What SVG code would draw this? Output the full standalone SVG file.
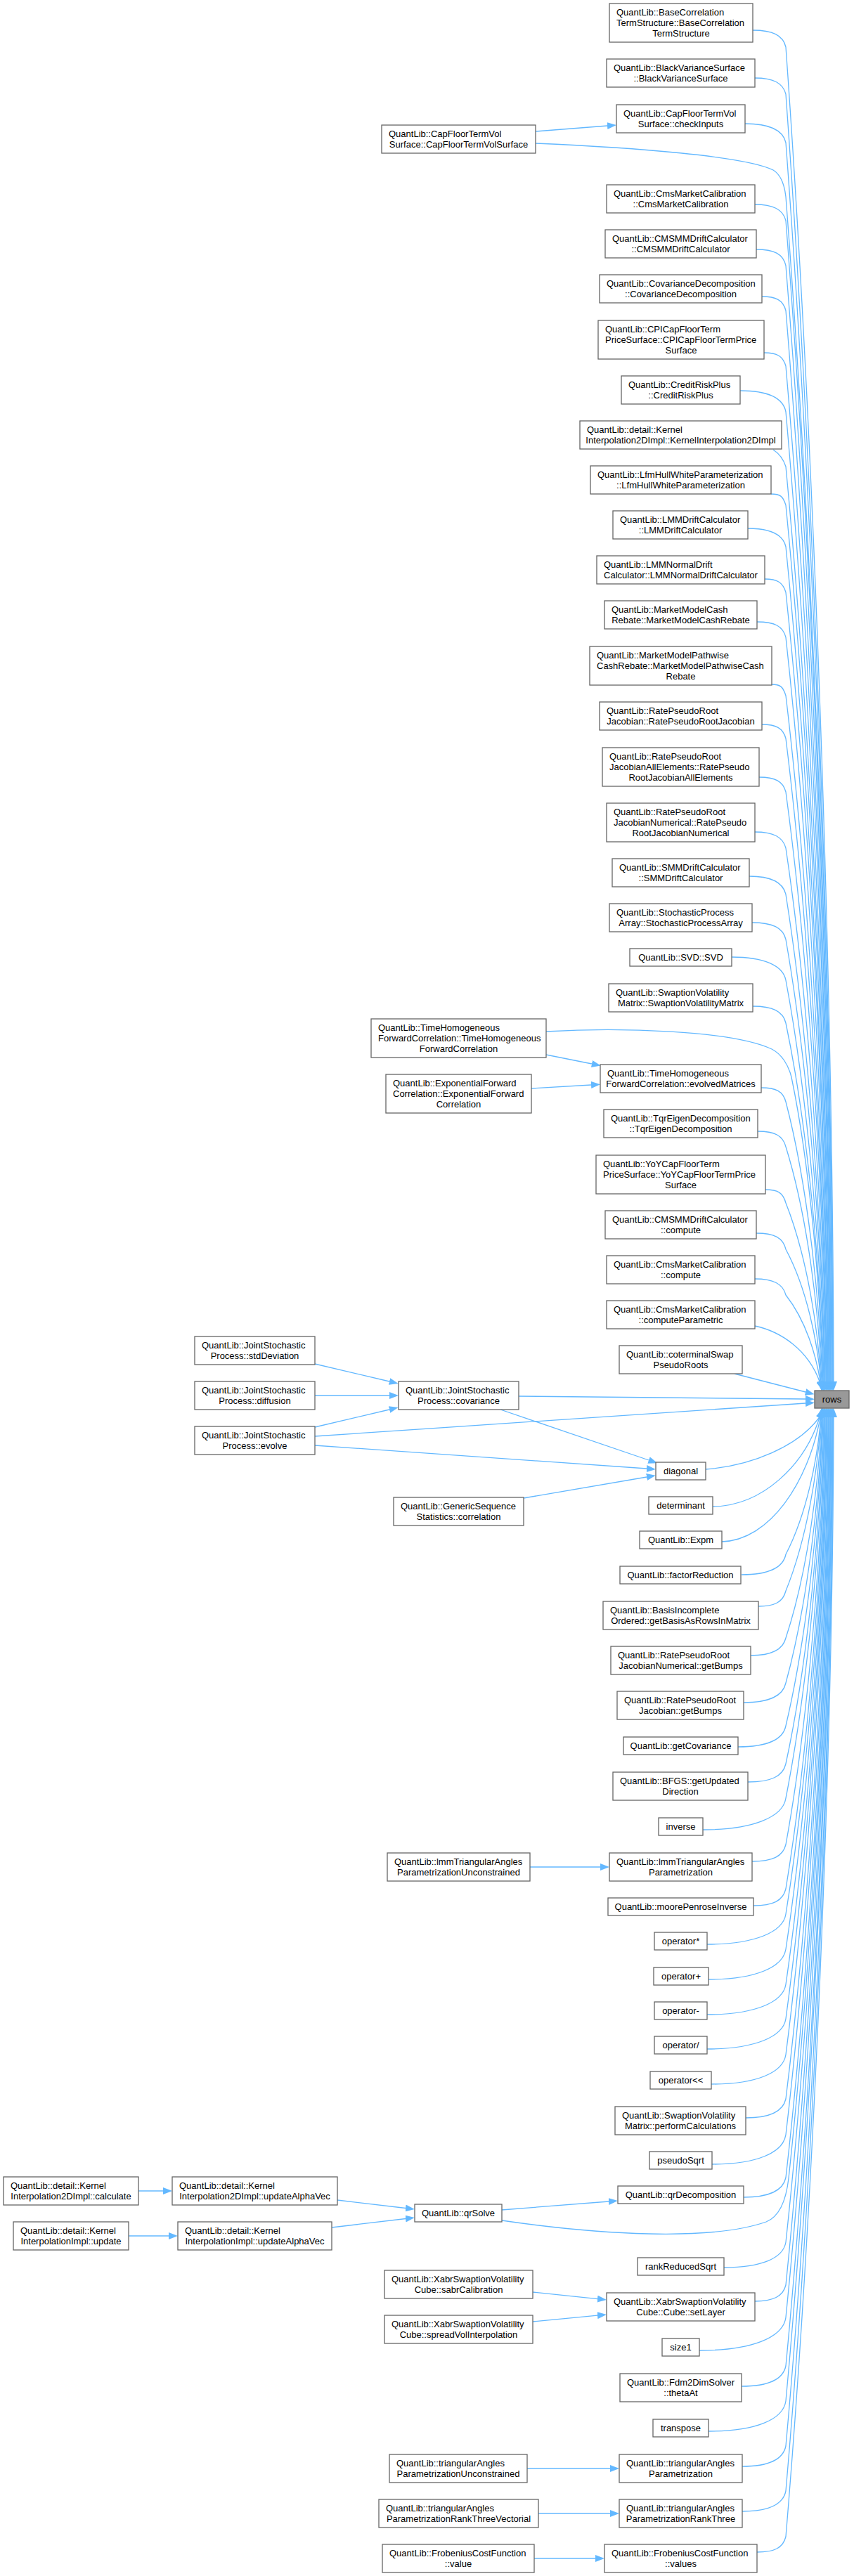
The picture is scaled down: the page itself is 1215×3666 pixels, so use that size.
<svg xmlns="http://www.w3.org/2000/svg" width="1215" height="3666" viewBox="0 0 1215 3666">
<defs>
<marker id="a" viewBox="0 0 13 10" refX="0" refY="5" markerWidth="13" markerHeight="10" markerUnits="userSpaceOnUse" orient="auto"><path d="M0,0L13,5L0,10z" fill="#63b8ff"/></marker>
<style>
.n rect{fill:#fff;stroke:#666;stroke-width:1.3}
.n text{font-family:"Liberation Sans",Arial,Helvetica,sans-serif;font-size:13px;fill:#000}
.n text.c{text-anchor:middle}
#rows rect{fill:#999}
.e path{fill:none;stroke:#63b8ff;stroke-width:1.3;marker-end:url(#a)}
</style>
</defs>
<rect x="0" y="0" width="1215" height="3666" fill="#fff"/>
<g class="e" id="connectors">
<path d="M762,187L864,179"/>
<path d="M777,1501L842,1514"/>
<path d="M756,1549L841,1544"/>
<path d="M448,1941L554,1966"/>
<path d="M448,1986L554,1986"/>
<path d="M448,2031L554,2006"/>
<path d="M448,2044L1146,1997"/>
<path d="M448,2057L920,2090"/>
<path d="M738,1987L1146,1991"/>
<path d="M712,2006L923,2078"/>
<path d="M745,2132L920,2102"/>
<path d="M1045,1955L1146,1981"/>
<path d="M754,2657L854,2657"/>
<path d="M197,3118L232,3118"/>
<path d="M183,3182L240,3182"/>
<path d="M480,3131L577,3142.5"/>
<path d="M472,3170L577,3157.5"/>
<path d="M714,3145L866,3133"/>
<path d="M758,3262L850,3271.6"/>
<path d="M758,3304L850,3295.2"/>
<path d="M750,3513L868,3513"/>
<path d="M766,3577L868,3577"/>
<path d="M760,3641L847,3641"/>
<path d="M1071,43C1099,43 1114,50 1118,67C1159,637 1185,1396 1186,1966"/>
<path d="M1074,111C1100,111 1114,118 1118,134C1158,684 1184,1416 1185,1966"/>
<path d="M1060,176C1095,176 1114,185 1118,203C1158,732 1183,1437 1185,1966"/>
<path d="M762,204C900,210 1060,222 1100,242C1110,248 1116,262 1118,280C1157,786 1183,1460 1184,1966"/>
<path d="M1074,291C1100,291 1114,298 1118,314C1157,810 1182,1470 1183,1966"/>
<path d="M1076,355C1101,355 1114,361 1118,378C1157,854 1181,1490 1182,1966"/>
<path d="M1084,422C1104,422 1114,427 1118,442C1156,899 1180,1509 1182,1966"/>
<path d="M1087,502C1106,502 1114,507 1118,521C1156,955 1180,1532 1181,1966"/>
<path d="M1053,556C1092,556 1114,566 1118,586C1155,1000 1179,1552 1180,1966"/>
<path d="M1100,640C1108,645 1114,652 1118,664C1155,1053 1178,1575 1180,1966"/>
<path d="M1097,703C1110,703 1114,706 1118,719C1155,1093 1177,1592 1179,1966"/>
<path d="M1064,752C1096,752 1114,760 1118,778C1154,1134 1176,1610 1178,1966"/>
<path d="M1088,824C1106,824 1114,829 1118,843C1154,1180 1176,1629 1178,1966"/>
<path d="M1077,885C1102,885 1114,891 1118,907C1153,1225 1175,1648 1177,1966"/>
<path d="M1098,974C1110,974 1114,977 1118,990C1153,1283 1174,1673 1176,1966"/>
<path d="M1084,1031C1104,1031 1114,1036 1118,1051C1152,1326 1173,1691 1176,1966"/>
<path d="M1080,1106C1103,1106 1114,1112 1118,1127C1152,1379 1173,1714 1175,1966"/>
<path d="M1074,1184C1100,1184 1114,1191 1118,1207C1152,1435 1172,1738 1174,1966"/>
<path d="M1066,1247C1097,1247 1114,1255 1118,1273C1151,1481 1171,1758 1173,1966"/>
<path d="M1070,1313C1099,1313 1114,1320 1118,1337C1151,1526 1170,1777 1173,1966"/>
<path d="M1041,1362C1087,1362 1114,1374 1118,1395C1150,1566 1169,1795 1172,1966"/>
<path d="M1071,1432C1099,1432 1114,1439 1118,1456C1150,1609 1168,1813 1171,1966"/>
<path d="M777,1468C880,1462 1040,1466 1098,1493C1112,1500 1122,1516 1126,1533C1153,1663 1167,1836 1171,1966"/>
<path d="M1083,1548C1104,1548 1114,1553 1118,1568C1149,1687 1166,1847 1170,1966"/>
<path d="M1078,1610C1102,1610 1114,1616 1118,1632C1149,1732 1165,1866 1169,1966"/>
<path d="M1089,1693C1106,1693 1114,1697 1118,1712C1148,1788 1164,1890 1168,1966"/>
<path d="M1076,1755C1101,1755 1114,1761 1118,1778C1148,1834 1163,1910 1168,1966"/>
<path d="M1074,1820C1100,1820 1114,1827 1118,1843C1147,1880 1161,1929 1167,1966"/>
<path d="M1074,1887C1112,1895 1150,1922 1166,1966"/>
<path d="M1004,2091C1070,2086 1135,2058 1165,2018"/>
<path d="M1014,2144C1085,2143 1145,2085 1166,2017"/>
<path d="M1027,2194C1095,2192 1150,2110 1167,2017"/>
<path d="M1055,2241C1093,2241 1114,2232 1118,2212C1148,2154 1163,2076 1168,2017"/>
<path d="M1079,2286C1102,2286 1114,2280 1118,2264C1148,2190 1164,2091 1168,2017"/>
<path d="M1068,2356C1098,2356 1114,2348 1118,2331C1149,2237 1165,2111 1169,2017"/>
<path d="M1058,2423C1094,2423 1114,2414 1118,2395C1149,2282 1166,2130 1170,2017"/>
<path d="M1050,2486C1091,2486 1114,2476 1118,2456C1149,2324 1167,2149 1170,2017"/>
<path d="M1064,2536C1097,2536 1114,2528 1118,2510C1150,2362 1168,2165 1171,2017"/>
<path d="M1000,2604C1071,2604 1114,2586 1118,2559C1150,2396 1169,2180 1172,2017"/>
<path d="M1070,2649C1099,2649 1114,2642 1118,2625C1151,2443 1170,2199 1173,2017"/>
<path d="M1072,2712C1100,2712 1114,2705 1118,2688C1151,2487 1171,2218 1173,2017"/>
<path d="M1006,2767C1073,2767 1114,2750 1118,2724C1152,2512 1172,2229 1174,2017"/>
<path d="M1008,2817C1074,2817 1114,2800 1118,2774C1152,2547 1173,2244 1175,2017"/>
<path d="M1006,2867C1073,2867 1114,2850 1118,2824C1153,2582 1173,2259 1176,2017"/>
<path d="M1006,2916C1073,2916 1114,2899 1118,2873C1153,2616 1174,2274 1176,2017"/>
<path d="M1012,2966C1076,2966 1114,2950 1118,2924C1153,2652 1175,2289 1177,2017"/>
<path d="M1061,3014C1095,3014 1114,3005 1118,2987C1154,2696 1176,2308 1178,2017"/>
<path d="M1013,3080C1076,3080 1114,3064 1118,3038C1154,2732 1177,2323 1179,2017"/>
<path d="M1058,3127C1094,3127 1114,3118 1118,3099C1155,2774 1178,2342 1179,2017"/>
<path d="M714,3160C850,3180 1010,3190 1090,3162C1108,3155 1118,3135 1122,3100C1157,2775 1179,2342 1180,2017"/>
<path d="M1030,3227C1083,3227 1114,3214 1118,3191C1156,2839 1179,2369 1181,2017"/>
<path d="M1074,3275C1100,3275 1114,3268 1118,3252C1156,2882 1180,2387 1182,2017"/>
<path d="M995,3345C1069,3345 1114,3327 1118,3298C1157,2914 1181,2401 1182,2017"/>
<path d="M1055,3396C1093,3396 1114,3387 1118,3367C1157,2962 1182,2422 1183,2017"/>
<path d="M1008,3460C1074,3460 1114,3444 1118,3417C1157,2997 1182,2437 1184,2017"/>
<path d="M1056,3510C1093,3510 1114,3501 1118,3481C1158,3042 1183,2456 1185,2017"/>
<path d="M1056,3574C1093,3574 1114,3565 1118,3545C1158,3087 1184,2475 1185,2017"/>
<path d="M1077,3632C1102,3632 1114,3626 1118,3610C1158,3132 1185,2495 1186,2017"/>
</g>
<g class="n" id="n1"><rect x="867" y="5" width="204" height="55"/><text x="877" y="22">QuantLib::BaseCorrelation</text><text x="877" y="37">TermStructure::BaseCorrelation</text><text class="c" x="969" y="52">TermStructure</text></g>
<g class="n" id="n2"><rect x="863" y="84" width="211" height="40"/><text x="873" y="101">QuantLib::BlackVarianceSurface</text><text class="c" x="968.5" y="116">::BlackVarianceSurface</text></g>
<g class="n" id="n3"><rect x="877" y="149" width="183" height="40"/><text x="887" y="166">QuantLib::CapFloorTermVol</text><text class="c" x="968.5" y="181">Surface::checkInputs</text></g>
<g class="n" id="n4"><rect x="543" y="178" width="219" height="40"/><text x="553" y="195">QuantLib::CapFloorTermVol</text><text class="c" x="652.5" y="210">Surface::CapFloorTermVolSurface</text></g>
<g class="n" id="n5"><rect x="863" y="263" width="211" height="40"/><text x="873" y="280">QuantLib::CmsMarketCalibration</text><text class="c" x="968.5" y="295">::CmsMarketCalibration</text></g>
<g class="n" id="n6"><rect x="861" y="327" width="215" height="40"/><text x="871" y="344">QuantLib::CMSMMDriftCalculator</text><text class="c" x="968.5" y="359">::CMSMMDriftCalculator</text></g>
<g class="n" id="n7"><rect x="853" y="391" width="231" height="40"/><text x="863" y="408">QuantLib::CovarianceDecomposition</text><text class="c" x="968.5" y="423">::CovarianceDecomposition</text></g>
<g class="n" id="n8"><rect x="851" y="456" width="236" height="55"/><text x="861" y="473">QuantLib::CPICapFloorTerm</text><text x="861" y="488">PriceSurface::CPICapFloorTermPrice</text><text class="c" x="969" y="503">Surface</text></g>
<g class="n" id="n9"><rect x="884" y="535" width="169" height="40"/><text x="894" y="552">QuantLib::CreditRiskPlus</text><text class="c" x="968.5" y="567">::CreditRiskPlus</text></g>
<g class="n" id="n10"><rect x="825" y="599" width="287" height="40"/><text x="835" y="616">QuantLib::detail::Kernel</text><text class="c" x="968.5" y="631">Interpolation2DImpl::KernelInterpolation2DImpl</text></g>
<g class="n" id="n11"><rect x="840" y="663" width="257" height="40"/><text x="850" y="680">QuantLib::LfmHullWhiteParameterization</text><text class="c" x="968.5" y="695">::LfmHullWhiteParameterization</text></g>
<g class="n" id="n12"><rect x="872" y="727" width="192" height="40"/><text x="882" y="744">QuantLib::LMMDriftCalculator</text><text class="c" x="968" y="759">::LMMDriftCalculator</text></g>
<g class="n" id="n13"><rect x="849" y="791" width="239" height="40"/><text x="859" y="808">QuantLib::LMMNormalDrift</text><text class="c" x="968.5" y="823">Calculator::LMMNormalDriftCalculator</text></g>
<g class="n" id="n14"><rect x="860" y="855" width="217" height="40"/><text x="870" y="872">QuantLib::MarketModelCash</text><text class="c" x="968.5" y="887">Rebate::MarketModelCashRebate</text></g>
<g class="n" id="n15"><rect x="839" y="920" width="259" height="55"/><text x="849" y="937">QuantLib::MarketModelPathwise</text><text x="849" y="952">CashRebate::MarketModelPathwiseCash</text><text class="c" x="968.5" y="967">Rebate</text></g>
<g class="n" id="n16"><rect x="853" y="999" width="231" height="40"/><text x="863" y="1016">QuantLib::RatePseudoRoot</text><text class="c" x="968.5" y="1031">Jacobian::RatePseudoRootJacobian</text></g>
<g class="n" id="n17"><rect x="857" y="1064" width="223" height="55"/><text x="867" y="1081">QuantLib::RatePseudoRoot</text><text x="867" y="1096">JacobianAllElements::RatePseudo</text><text class="c" x="968.5" y="1111">RootJacobianAllElements</text></g>
<g class="n" id="n18"><rect x="863" y="1143" width="211" height="55"/><text x="873" y="1160">QuantLib::RatePseudoRoot</text><text x="873" y="1175">JacobianNumerical::RatePseudo</text><text class="c" x="968.5" y="1190">RootJacobianNumerical</text></g>
<g class="n" id="n19"><rect x="871" y="1222" width="195" height="40"/><text x="881" y="1239">QuantLib::SMMDriftCalculator</text><text class="c" x="968.5" y="1254">::SMMDriftCalculator</text></g>
<g class="n" id="n20"><rect x="867" y="1286" width="203" height="40"/><text x="877" y="1303">QuantLib::StochasticProcess</text><text class="c" x="968.5" y="1318">Array::StochasticProcessArray</text></g>
<g class="n" id="n21"><rect x="896" y="1350" width="145" height="25"/><text class="c" x="968.5" y="1367">QuantLib::SVD::SVD</text></g>
<g class="n" id="n22"><rect x="866" y="1400" width="205" height="40"/><text x="876" y="1417">QuantLib::SwaptionVolatility</text><text class="c" x="968.5" y="1432">Matrix::SwaptionVolatilityMatrix</text></g>
<g class="n" id="n23"><rect x="528" y="1450" width="249" height="55"/><text x="538" y="1467">QuantLib::TimeHomogeneous</text><text x="538" y="1482">ForwardCorrelation::TimeHomogeneous</text><text class="c" x="652.5" y="1497">ForwardCorrelation</text></g>
<g class="n" id="n24"><rect x="854" y="1515" width="229" height="40"/><text x="864" y="1532">QuantLib::TimeHomogeneous</text><text class="c" x="968.5" y="1547">ForwardCorrelation::evolvedMatrices</text></g>
<g class="n" id="n25"><rect x="549" y="1529" width="207" height="55"/><text x="559" y="1546">QuantLib::ExponentialForward</text><text x="559" y="1561">Correlation::ExponentialForward</text><text class="c" x="652.5" y="1576">Correlation</text></g>
<g class="n" id="n26"><rect x="859" y="1579" width="219" height="40"/><text x="869" y="1596">QuantLib::TqrEigenDecomposition</text><text class="c" x="968.5" y="1611">::TqrEigenDecomposition</text></g>
<g class="n" id="n27"><rect x="848" y="1644" width="241" height="55"/><text x="858" y="1661">QuantLib::YoYCapFloorTerm</text><text x="858" y="1676">PriceSurface::YoYCapFloorTermPrice</text><text class="c" x="968.5" y="1691">Surface</text></g>
<g class="n" id="n28"><rect x="861" y="1723" width="215" height="40"/><text x="871" y="1740">QuantLib::CMSMMDriftCalculator</text><text class="c" x="968.5" y="1755">::compute</text></g>
<g class="n" id="n29"><rect x="863" y="1787" width="211" height="40"/><text x="873" y="1804">QuantLib::CmsMarketCalibration</text><text class="c" x="968.5" y="1819">::compute</text></g>
<g class="n" id="n30"><rect x="863" y="1851" width="211" height="40"/><text x="873" y="1868">QuantLib::CmsMarketCalibration</text><text class="c" x="968.5" y="1883">::computeParametric</text></g>
<g class="n" id="n31"><rect x="881" y="1915" width="175" height="40"/><text x="891" y="1932">QuantLib::coterminalSwap</text><text class="c" x="968.5" y="1947">PseudoRoots</text></g>
<g class="n" id="n32"><rect x="277" y="1902" width="171" height="40"/><text x="287" y="1919">QuantLib::JointStochastic</text><text class="c" x="362.5" y="1934">Process::stdDeviation</text></g>
<g class="n" id="n33"><rect x="277" y="1966" width="171" height="40"/><text x="287" y="1983">QuantLib::JointStochastic</text><text class="c" x="362.5" y="1998">Process::diffusion</text></g>
<g class="n" id="n34"><rect x="277" y="2030" width="171" height="40"/><text x="287" y="2047">QuantLib::JointStochastic</text><text class="c" x="362.5" y="2062">Process::evolve</text></g>
<g class="n" id="n35"><rect x="567" y="1966" width="171" height="40"/><text x="577" y="1983">QuantLib::JointStochastic</text><text class="c" x="652.5" y="1998">Process::covariance</text></g>
<g class="n" id="rows"><rect x="1159" y="1979" width="49" height="25"/><text class="c" x="1183.5" y="1996">rows</text></g>
<g class="n" id="n37"><rect x="933" y="2081" width="71" height="25"/><text class="c" x="968.5" y="2098">diagonal</text></g>
<g class="n" id="n38"><rect x="560" y="2131" width="185" height="40"/><text x="570" y="2148">QuantLib::GenericSequence</text><text class="c" x="652.5" y="2163">Statistics::correlation</text></g>
<g class="n" id="n39"><rect x="923" y="2130" width="91" height="25"/><text class="c" x="968.5" y="2147">determinant</text></g>
<g class="n" id="n40"><rect x="910" y="2179" width="117" height="25"/><text class="c" x="968.5" y="2196">QuantLib::Expm</text></g>
<g class="n" id="n41"><rect x="882" y="2229" width="172" height="25"/><text class="c" x="968" y="2246">QuantLib::factorReduction</text></g>
<g class="n" id="n42"><rect x="858" y="2279" width="221" height="40"/><text x="868" y="2296">QuantLib::BasisIncomplete</text><text class="c" x="968.5" y="2311">Ordered::getBasisAsRowsInMatrix</text></g>
<g class="n" id="n43"><rect x="869" y="2343" width="199" height="40"/><text x="879" y="2360">QuantLib::RatePseudoRoot</text><text class="c" x="968.5" y="2375">JacobianNumerical::getBumps</text></g>
<g class="n" id="n44"><rect x="878" y="2407" width="180" height="40"/><text x="888" y="2424">QuantLib::RatePseudoRoot</text><text class="c" x="968" y="2439">Jacobian::getBumps</text></g>
<g class="n" id="n45"><rect x="887" y="2472" width="163" height="25"/><text class="c" x="968.5" y="2489">QuantLib::getCovariance</text></g>
<g class="n" id="n46"><rect x="872" y="2522" width="192" height="40"/><text x="882" y="2539">QuantLib::BFGS::getUpdated</text><text class="c" x="968" y="2554">Direction</text></g>
<g class="n" id="n47"><rect x="937" y="2587" width="63" height="25"/><text class="c" x="968.5" y="2604">inverse</text></g>
<g class="n" id="n48"><rect x="551" y="2637" width="203" height="40"/><text x="561" y="2654">QuantLib::lmmTriangularAngles</text><text class="c" x="652.5" y="2669">ParametrizationUnconstrained</text></g>
<g class="n" id="n49"><rect x="867" y="2637" width="203" height="40"/><text x="877" y="2654">QuantLib::lmmTriangularAngles</text><text class="c" x="968.5" y="2669">Parametrization</text></g>
<g class="n" id="n50"><rect x="865" y="2701" width="207" height="25"/><text class="c" x="968.5" y="2718">QuantLib::moorePenroseInverse</text></g>
<g class="n" id="n51"><rect x="931" y="2750" width="75" height="25"/><text class="c" x="968.5" y="2767">operator*</text></g>
<g class="n" id="n52"><rect x="930" y="2800" width="78" height="25"/><text class="c" x="969" y="2817">operator+</text></g>
<g class="n" id="n53"><rect x="931" y="2849" width="75" height="25"/><text class="c" x="968.5" y="2866">operator-</text></g>
<g class="n" id="n54"><rect x="931" y="2898" width="75" height="25"/><text class="c" x="968.5" y="2915">operator/</text></g>
<g class="n" id="n55"><rect x="925" y="2948" width="87" height="25"/><text class="c" x="968.5" y="2965">operator&lt;&lt;</text></g>
<g class="n" id="n56"><rect x="875" y="2998" width="186" height="40"/><text x="885" y="3015">QuantLib::SwaptionVolatility</text><text class="c" x="968" y="3030">Matrix::performCalculations</text></g>
<g class="n" id="n57"><rect x="924" y="3062" width="89" height="25"/><text class="c" x="968.5" y="3079">pseudoSqrt</text></g>
<g class="n" id="n58"><rect x="879" y="3111" width="179" height="25"/><text class="c" x="968.5" y="3128">QuantLib::qrDecomposition</text></g>
<g class="n" id="n59"><rect x="590" y="3137" width="124" height="25"/><text class="c" x="652" y="3154">QuantLib::qrSolve</text></g>
<g class="n" id="n60"><rect x="5" y="3098" width="192" height="40"/><text x="15" y="3115">QuantLib::detail::Kernel</text><text class="c" x="101" y="3130">Interpolation2DImpl::calculate</text></g>
<g class="n" id="n61"><rect x="245" y="3098" width="235" height="40"/><text x="255" y="3115">QuantLib::detail::Kernel</text><text class="c" x="362.5" y="3130">Interpolation2DImpl::updateAlphaVec</text></g>
<g class="n" id="n62"><rect x="19" y="3162" width="164" height="40"/><text x="29" y="3179">QuantLib::detail::Kernel</text><text class="c" x="101" y="3194">InterpolationImpl::update</text></g>
<g class="n" id="n63"><rect x="253" y="3162" width="219" height="40"/><text x="263" y="3179">QuantLib::detail::Kernel</text><text class="c" x="362.5" y="3194">InterpolationImpl::updateAlphaVec</text></g>
<g class="n" id="n64"><rect x="907" y="3213" width="123" height="25"/><text class="c" x="968.5" y="3230">rankReducedSqrt</text></g>
<g class="n" id="n65"><rect x="547" y="3231" width="211" height="40"/><text x="557" y="3248">QuantLib::XabrSwaptionVolatility</text><text class="c" x="652.5" y="3263">Cube::sabrCalibration</text></g>
<g class="n" id="n66"><rect x="863" y="3263" width="211" height="40"/><text x="873" y="3280">QuantLib::XabrSwaptionVolatility</text><text class="c" x="968.5" y="3295">Cube::Cube::setLayer</text></g>
<g class="n" id="n67"><rect x="547" y="3295" width="211" height="40"/><text x="557" y="3312">QuantLib::XabrSwaptionVolatility</text><text class="c" x="652.5" y="3327">Cube::spreadVolInterpolation</text></g>
<g class="n" id="n68"><rect x="942" y="3328" width="53" height="25"/><text class="c" x="968.5" y="3345">size1</text></g>
<g class="n" id="n69"><rect x="882" y="3378" width="173" height="40"/><text x="892" y="3395">QuantLib::Fdm2DimSolver</text><text class="c" x="968.5" y="3410">::thetaAt</text></g>
<g class="n" id="n70"><rect x="929" y="3443" width="79" height="25"/><text class="c" x="968.5" y="3460">transpose</text></g>
<g class="n" id="n71"><rect x="554" y="3493" width="196" height="40"/><text x="564" y="3510">QuantLib::triangularAngles</text><text class="c" x="652" y="3525">ParametrizationUnconstrained</text></g>
<g class="n" id="n72"><rect x="881" y="3493" width="175" height="40"/><text x="891" y="3510">QuantLib::triangularAngles</text><text class="c" x="968.5" y="3525">Parametrization</text></g>
<g class="n" id="n73"><rect x="539" y="3557" width="227" height="40"/><text x="549" y="3574">QuantLib::triangularAngles</text><text class="c" x="652.5" y="3589">ParametrizationRankThreeVectorial</text></g>
<g class="n" id="n74"><rect x="881" y="3557" width="175" height="40"/><text x="891" y="3574">QuantLib::triangularAngles</text><text class="c" x="968.5" y="3589">ParametrizationRankThree</text></g>
<g class="n" id="n75"><rect x="544" y="3621" width="216" height="40"/><text x="554" y="3638">QuantLib::FrobeniusCostFunction</text><text class="c" x="652" y="3653">::value</text></g>
<g class="n" id="n76"><rect x="860" y="3621" width="217" height="40"/><text x="870" y="3638">QuantLib::FrobeniusCostFunction</text><text class="c" x="968.5" y="3653">::values</text></g>
</svg>
